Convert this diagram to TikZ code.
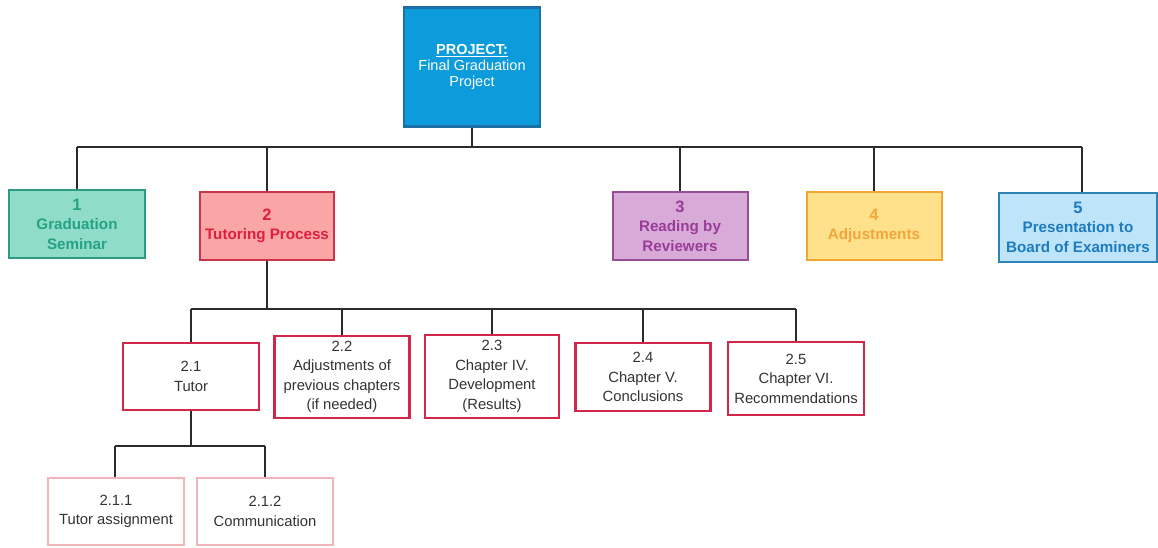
\documentclass[tikz,border=0pt]{standalone}
\usepackage{fontspec}
\setmainfont{Liberation Sans}
\usetikzlibrary{calc}

% palette
\definecolor{rootfill}{HTML}{0C9BDB}
\definecolor{rootedge}{HTML}{1C70A6}
\definecolor{tealfill}{HTML}{8FDCC9}
\definecolor{tealedge}{HTML}{2E9A82}
\definecolor{tealtext}{HTML}{25A283}
\definecolor{pinkfill}{HTML}{FAA5A6}
\definecolor{pinkedge}{HTML}{C9344B}
\definecolor{pinktext}{HTML}{DE1F3E}
\definecolor{plumfill}{HTML}{D8AAD8}
\definecolor{plumedge}{HTML}{9A4D97}
\definecolor{plumtext}{HTML}{9A3C98}
\definecolor{sunfill}{HTML}{FFE18B}
\definecolor{sunedge}{HTML}{F2A632}
\definecolor{suntext}{HTML}{F2A53A}
\definecolor{skyfill}{HTML}{BDE4F8}
\definecolor{skyedge}{HTML}{2F82B4}
\definecolor{skytext}{HTML}{1E7BBF}
\definecolor{subedge}{HTML}{D2264B}
\definecolor{leafedge}{HTML}{F2B6BA}
\definecolor{ink}{HTML}{333333}
\definecolor{wire}{HTML}{2B2B2B}

\tikzset{
  box/.style={draw, rectangle, align=center, inner sep=1pt},
  rootbox/.style={box, fill=rootfill, draw=rootedge, line width=2.2pt,
    text=white, minimum width=136pt, minimum height=119pt,
    font=\fontsize{14.5}{16}\selectfont},
  phase/.style={box, line width=2pt, minimum width=135pt, minimum height=68pt,
    font=\bfseries\fontsize{15.2}{19.5}\selectfont},
  task/.style={box, fill=white, draw=subedge, line width=2.2pt, text=ink,
    minimum width=135pt, font=\fontsize{14.8}{19.5}\selectfont},
  leaf/.style={box, fill=white, draw=leafedge, line width=1.4pt, text=ink,
    minimum width=136pt, minimum height=67pt, font=\fontsize{14.8}{19.5}\selectfont},
  wirestyle/.style={draw=wire, line width=1.8pt}
}
\newcommand{\numtag}[1]{{\fontsize{16.5}{19.5}\selectfont #1}}

\begin{document}
\begin{tikzpicture}[x=1pt,y=-1pt]
  \useasboundingbox (0,0) rectangle (1158,547);

  % top of the breakdown
  \node[rootbox] (root) at (472,67) {\textbf{\underline{PROJECT:}}\\Final Graduation\\Project};

  % main phases
  \node[phase, fill=tealfill, draw=tealedge, text=tealtext, minimum width=136pt]
    (p1) at (77,224) {\numtag{1}\\Graduation\\Seminar};
  \node[phase, fill=pinkfill, draw=pinkedge, text=pinktext, minimum width=134pt]
    (p2) at (267,226) {\numtag{2}\\Tutoring Process};
  \node[phase, fill=plumfill, draw=plumedge, text=plumtext]
    (p3) at (680,226) {\numtag{3}\\Reading by\\Reviewers};
  \node[phase, fill=sunfill, draw=sunedge, text=suntext]
    (p4) at (874,226) {\numtag{4}\\Adjustments};
  \node[phase, fill=skyfill, draw=skyedge, text=skytext, minimum width=158pt, minimum height=69pt]
    (p5) at (1078,227) {\numtag{5}\\Presentation to\\Board of Examiners};

  % tutoring sub-tasks
  \node[task, minimum width=136pt, minimum height=67pt] (t1) at (191,376.5) {2.1\\Tutor};
  \node[task, minimum height=82pt] (t2) at (342,377) {2.2\\Adjustments of\\previous chapters\\(if needed)};
  \node[task, minimum width=134pt, minimum height=83pt] (t3) at (492,376.5) {2.3\\Chapter IV.\\Development\\(Results)};
  \node[task, minimum height=68pt] (t4) at (643,377) {2.4\\Chapter V.\\Conclusions};
  \node[task, minimum width=136pt, minimum height=73pt] (t5) at (796,378.5) {2.5\\Chapter VI.\\Recommendations};

  % tutor work packages
  \node[leaf] (l1) at (116,511.5) {2.1.1\\Tutor assignment};
  \node[leaf] (l2) at (265,511.5) {2.1.2\\Communication};

  % bus levels
  \coordinate (busA) at (0,147);
  \coordinate (busB) at (0,309);
  \coordinate (busC) at (0,446);

  % root to phases
  \path[wirestyle] (root.south) -- (root.south |- busA);
  \path[wirestyle] (p1.north |- busA) -- ([xshift=4pt]p5.north |- busA);
  \foreach \n in {p1,p2,p3,p4} {\path[wirestyle] (\n.north |- busA) -- (\n.north);}
  \path[wirestyle] ([xshift=4pt]p5.north |- busA) -- ([xshift=4pt]p5.north);

  % tutoring process to sub-tasks
  \path[wirestyle] (p2.south) -- (p2.south |- busB);
  \path[wirestyle] (t1.north |- busB) -- (t5.north |- busB);
  \foreach \n in {t1,t2,t3,t4,t5} {\path[wirestyle] (\n.north |- busB) -- (\n.north);}

  % tutor to work packages
  \path[wirestyle] (t1.south) -- (t1.south |- busC);
  \path[wirestyle] ([xshift=-1pt]l1.north |- busC) -- (l2.north |- busC);
  \path[wirestyle] ([xshift=-1pt]l1.north |- busC) -- ([xshift=-1pt]l1.north);
  \path[wirestyle] (l2.north |- busC) -- (l2.north);
\end{tikzpicture}
\end{document}
